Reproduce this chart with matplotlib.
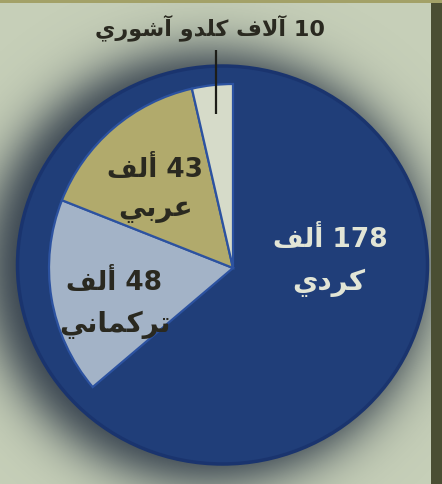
import numpy as np
import matplotlib
matplotlib.use("Agg")
import matplotlib.pyplot as plt
from matplotlib.patches import Ellipse, Rectangle

# ---------------- data ----------------
groups = ['كردي', 'تركماني', 'عربي', 'كلدو آشوري']
values = [178, 48, 43, 10]
units = ['ألف', 'ألف', 'ألف', 'آلاف']
colors = ['#203e79', '#a3b3c7', '#b1aa6c', '#d6dbc9']
text_colors = ['#e2e5d6', '#2a2920', '#2a2920', '#2a2920']

# ---------------- simple Arabic shaping (matplotlib has no shaping) ----------------
FORMS = {
    'ا': ('\uFE8D', '\uFE8E', None, None),
    'أ': ('\uFE83', '\uFE84', None, None),
    'آ': ('\uFE81', '\uFE82', None, None),
    'د': ('\uFEA9', '\uFEAA', None, None),
    'ر': ('\uFEAD', '\uFEAE', None, None),
    'و': ('\uFEED', '\uFEEE', None, None),
    'ب': ('\uFE8F', '\uFE90', '\uFE91', '\uFE92'),
    'ت': ('\uFE95', '\uFE96', '\uFE97', '\uFE98'),
    'ش': ('\uFEB5', '\uFEB6', '\uFEB7', '\uFEB8'),
    'ع': ('\uFEC9', '\uFECA', '\uFECB', '\uFECC'),
    'ف': ('\uFED1', '\uFED2', '\uFED3', '\uFED4'),
    'ك': ('\uFED9', '\uFEDA', '\uFEDB', '\uFEDC'),
    'ل': ('\uFEDD', '\uFEDE', '\uFEDF', '\uFEE0'),
    'م': ('\uFEE1', '\uFEE2', '\uFEE3', '\uFEE4'),
    'ن': ('\uFEE5', '\uFEE6', '\uFEE7', '\uFEE8'),
    'ي': ('\uFEF1', '\uFEF2', '\uFEF3', '\uFEF4'),
}
LAM_ALEF = {'ا': ('\uFEFB', '\uFEFC'), 'أ': ('\uFEF7', '\uFEF8'), 'آ': ('\uFEF5', '\uFEF6')}


def shape_word(w):
    us = []
    i = 0
    while i < len(w):
        c = w[i]
        if c == 'ل' and i + 1 < len(w) and w[i + 1] in LAM_ALEF:
            us.append(('LA', w[i + 1]))
            i += 2
        else:
            us.append(('C', c))
            i += 1

    def dual(u):
        return u is not None and u[0] == 'C' and u[1] in FORMS and FORMS[u[1]][2] is not None

    def arabic(u):
        return u is not None and (u[0] == 'LA' or u[1] in FORMS)

    out = []
    for k, (t, c) in enumerate(us):
        prev = us[k - 1] if k > 0 else None
        nxt = us[k + 1] if k + 1 < len(us) else None
        jp = dual(prev)
        if t == 'LA':
            out.append(LAM_ALEF[c][1 if jp else 0])
            continue
        if c not in FORMS:
            out.append(c)
            continue
        f = FORMS[c]
        jn = f[2] is not None and arabic(nxt)
        if jp and jn:
            out.append(f[3])
        elif jp:
            out.append(f[1])
        elif jn:
            out.append(f[2])
        else:
            out.append(f[0])
    return ''.join(out)


def visual(line):
    words = line.split(' ')
    vis = []
    for w in reversed(words):
        if any(ch in FORMS for ch in w):
            vis.append(shape_word(w)[::-1])
        else:
            vis.append(w)
    return ' '.join(vis)


# ---------------- figure ----------------
W, H = 442, 484
fig = plt.figure(figsize=(W / 100, H / 100), dpi=100)
fig.patch.set_facecolor('#c6cfb8')
ax = fig.add_axes([0, 0, 1, 1])
ax.set_facecolor('#c6cfb8')


def Y(y):
    return H - y


# soft shadow halo around the disc
disc_c = (222.5, Y(265.0))
disc_w, disc_h = 410, 398
yy, xx = np.mgrid[0:H, 0:W]
sx, sy = disc_c[0] - 14, disc_c[1] - 2
ax_a, ax_b = disc_w / 2 + 16, disc_h / 2 + 16
px = xx + 0.5
py = (H - yy - 0.5)
rn = np.sqrt(((px - sx) / ax_a) ** 2 + ((py - sy) / ax_b) ** 2)
d = (rn - 1.0) * (ax_a + ax_b) / 2
alpha = 0.92 / (1.0 + np.exp(np.clip(d / 15.0, -50, 50)))
shadow = np.zeros((H, W, 4))
shadow[..., 0] = 32 / 255
shadow[..., 1] = 44 / 255
shadow[..., 2] = 62 / 255
shadow[..., 3] = alpha
ax.imshow(shadow, extent=(0, W, 0, H), origin='upper', zorder=0, interpolation='bilinear')

# dark base disc
ax.add_patch(Ellipse(disc_c, disc_w, disc_h, facecolor=colors[0],
                     edgecolor='#1a346e', linewidth=2.5, zorder=1))

# pie
pie_c = (233.0, Y(268.0))
pie_r = 184.0
wedges, _ = ax.pie(values, colors=colors, startangle=90, counterclock=False,
                   radius=pie_r, center=pie_c,
                   wedgeprops=dict(edgecolor='#2c52a0', linewidth=1.6))
for k, wdg in enumerate(wedges):
    wdg.set_zorder(2)
wedges[0].set_edgecolor(colors[0])

# leader line for the smallest slice
w_last = wedges[-1]
mid = np.deg2rad((w_last.theta1 + w_last.theta2) / 2)
lx = pie_c[0] + 0.84 * pie_r * np.cos(mid)
ly = pie_c[1] + 0.84 * pie_r * np.sin(mid)
ax.plot([lx, lx], [ly, Y(50)], color='#1d1d18', lw=1.6, zorder=3, solid_capstyle='butt')

# labels
font = dict(family=['DejaVu Sans'], fontweight='bold')
label_pos = {
    0: [(330, 247), (329, 290)],
    1: [(114, 290), (115, 332)],
    2: [(155, 177), (156, 216)],
}
for i in range(3):
    l1 = f"{values[i]} {units[i]}"
    l2 = groups[i]
    (x1, y1), (x2, y2) = label_pos[i]
    ax.text(x1, Y(y1), visual(l1), ha='center', va='baseline', fontsize=19,
            color=text_colors[i], zorder=4, **font)
    ax.text(x2, Y(y2), visual(l2), ha='center', va='baseline', fontsize=20,
            color=text_colors[i], zorder=4, **font)

top = f"{values[3]} {units[3]} {groups[3]}"
ax.text(210, Y(35), visual(top), ha='center', va='baseline', fontsize=16,
        color=text_colors[3], zorder=4, **font)

# scan borders
ax.add_patch(Rectangle((431, 0), 11, H, facecolor='#4a4e33', edgecolor='none', zorder=5))
ax.add_patch(Rectangle((0, H - 3), W, 3, facecolor='#a3a168', edgecolor='none', zorder=5))

ax.set_xlim(0, W)
ax.set_ylim(0, H)
ax.set_aspect('auto')
ax.axis('off')

fig.savefig('out.png', dpi=100, facecolor=fig.get_facecolor())
